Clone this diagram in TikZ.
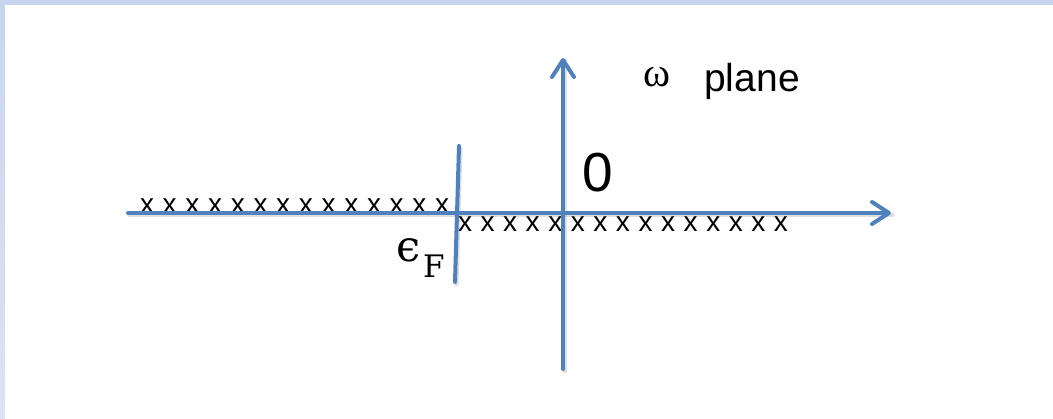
\RequirePackage{fix-cm}
\documentclass[tikz,border=0pt]{standalone}
\usepackage{fontspec}
\setmainfont{Liberation Sans}
\newfontfamily\serifgreek{Liberation Serif}
\newfontfamily\dvserif{DejaVu Serif}
\usetikzlibrary{arrows.meta}
\definecolor{axisblue}{HTML}{4F81BD}
\definecolor{bandtop}{HTML}{C8D5EE}
\definecolor{bandbot}{HTML}{DCE3F4}
\tikzset{
  axis/.style={draw=axisblue, line width=4pt, line cap=round},
  axisarrow/.style={axis, -{Straight Barb[length=17pt,width=22pt,line cap=round,round]}},
  shadowline/.style={draw=black!35, line width=4pt, opacity=0.35, line cap=round},
  xmark/.style={inner sep=0pt, font=\fontsize{28}{28}\selectfont},
  lbl/.style={inner sep=0pt, anchor=base}
}
\begin{document}
\begin{tikzpicture}[x=1pt,y=-1pt]
\useasboundingbox (0,0) rectangle (1053,419);
\shade[top color=bandtop, bottom color=bandbot] (0,0) rectangle (1053,419);
\fill[white] (5,5) rectangle (1053,419);
% coordinates
\coordinate (hL) at (128,213);
\coordinate (hR) at (891,213);
\coordinate (vB) at (563,369);
\coordinate (vT) at (563,58);
\coordinate (fT) at (459,146);
\coordinate (fB) at (455,282);
% shadows
\draw[shadowline] ([shift={(1.5,2.5)}]hL) -- ([shift={(1.5,2.5)}]hR);
\draw[shadowline] ([shift={(1.5,2.5)}]vB) -- ([shift={(1.5,2.5)}]vT);
\draw[shadowline] ([shift={(1.5,2.5)}]fT) -- ([shift={(1.5,2.5)}]fB);
% x marks
\foreach \i in {0,...,13} {
  \node[xmark] (xa\i) at ({147+22.7*\i},206) {x};
}
\foreach \i in {0,...,14} {
  \node[xmark] (xb\i) at ({465+22.57*\i},224) {x};
}
% axes
\draw[axisarrow] (hL) -- (hR);
\draw[axisarrow] (vB) -- (vT);
\draw[axis] (fT) -- (fB);
% labels
\node[lbl, font=\fontsize{55}{55}\selectfont] (zero) at (598,192) {0};
\node[lbl, font=\fontsize{39}{39}\selectfont] (plane) at (752,92) {plane};
\node[lbl, font=\serifgreek\fontsize{41}{41}\selectfont] (omega) at (657,87) {ω};
\node[lbl, anchor=base west, font=\dvserif\fontsize{43}{43}\selectfont] (eps) at (396,262) {ϵ};
\node[lbl, anchor=base west, font=\dvserif\fontsize{31}{31}\selectfont] (epsF) at (423,278) {F};
\end{tikzpicture}
\end{document}
